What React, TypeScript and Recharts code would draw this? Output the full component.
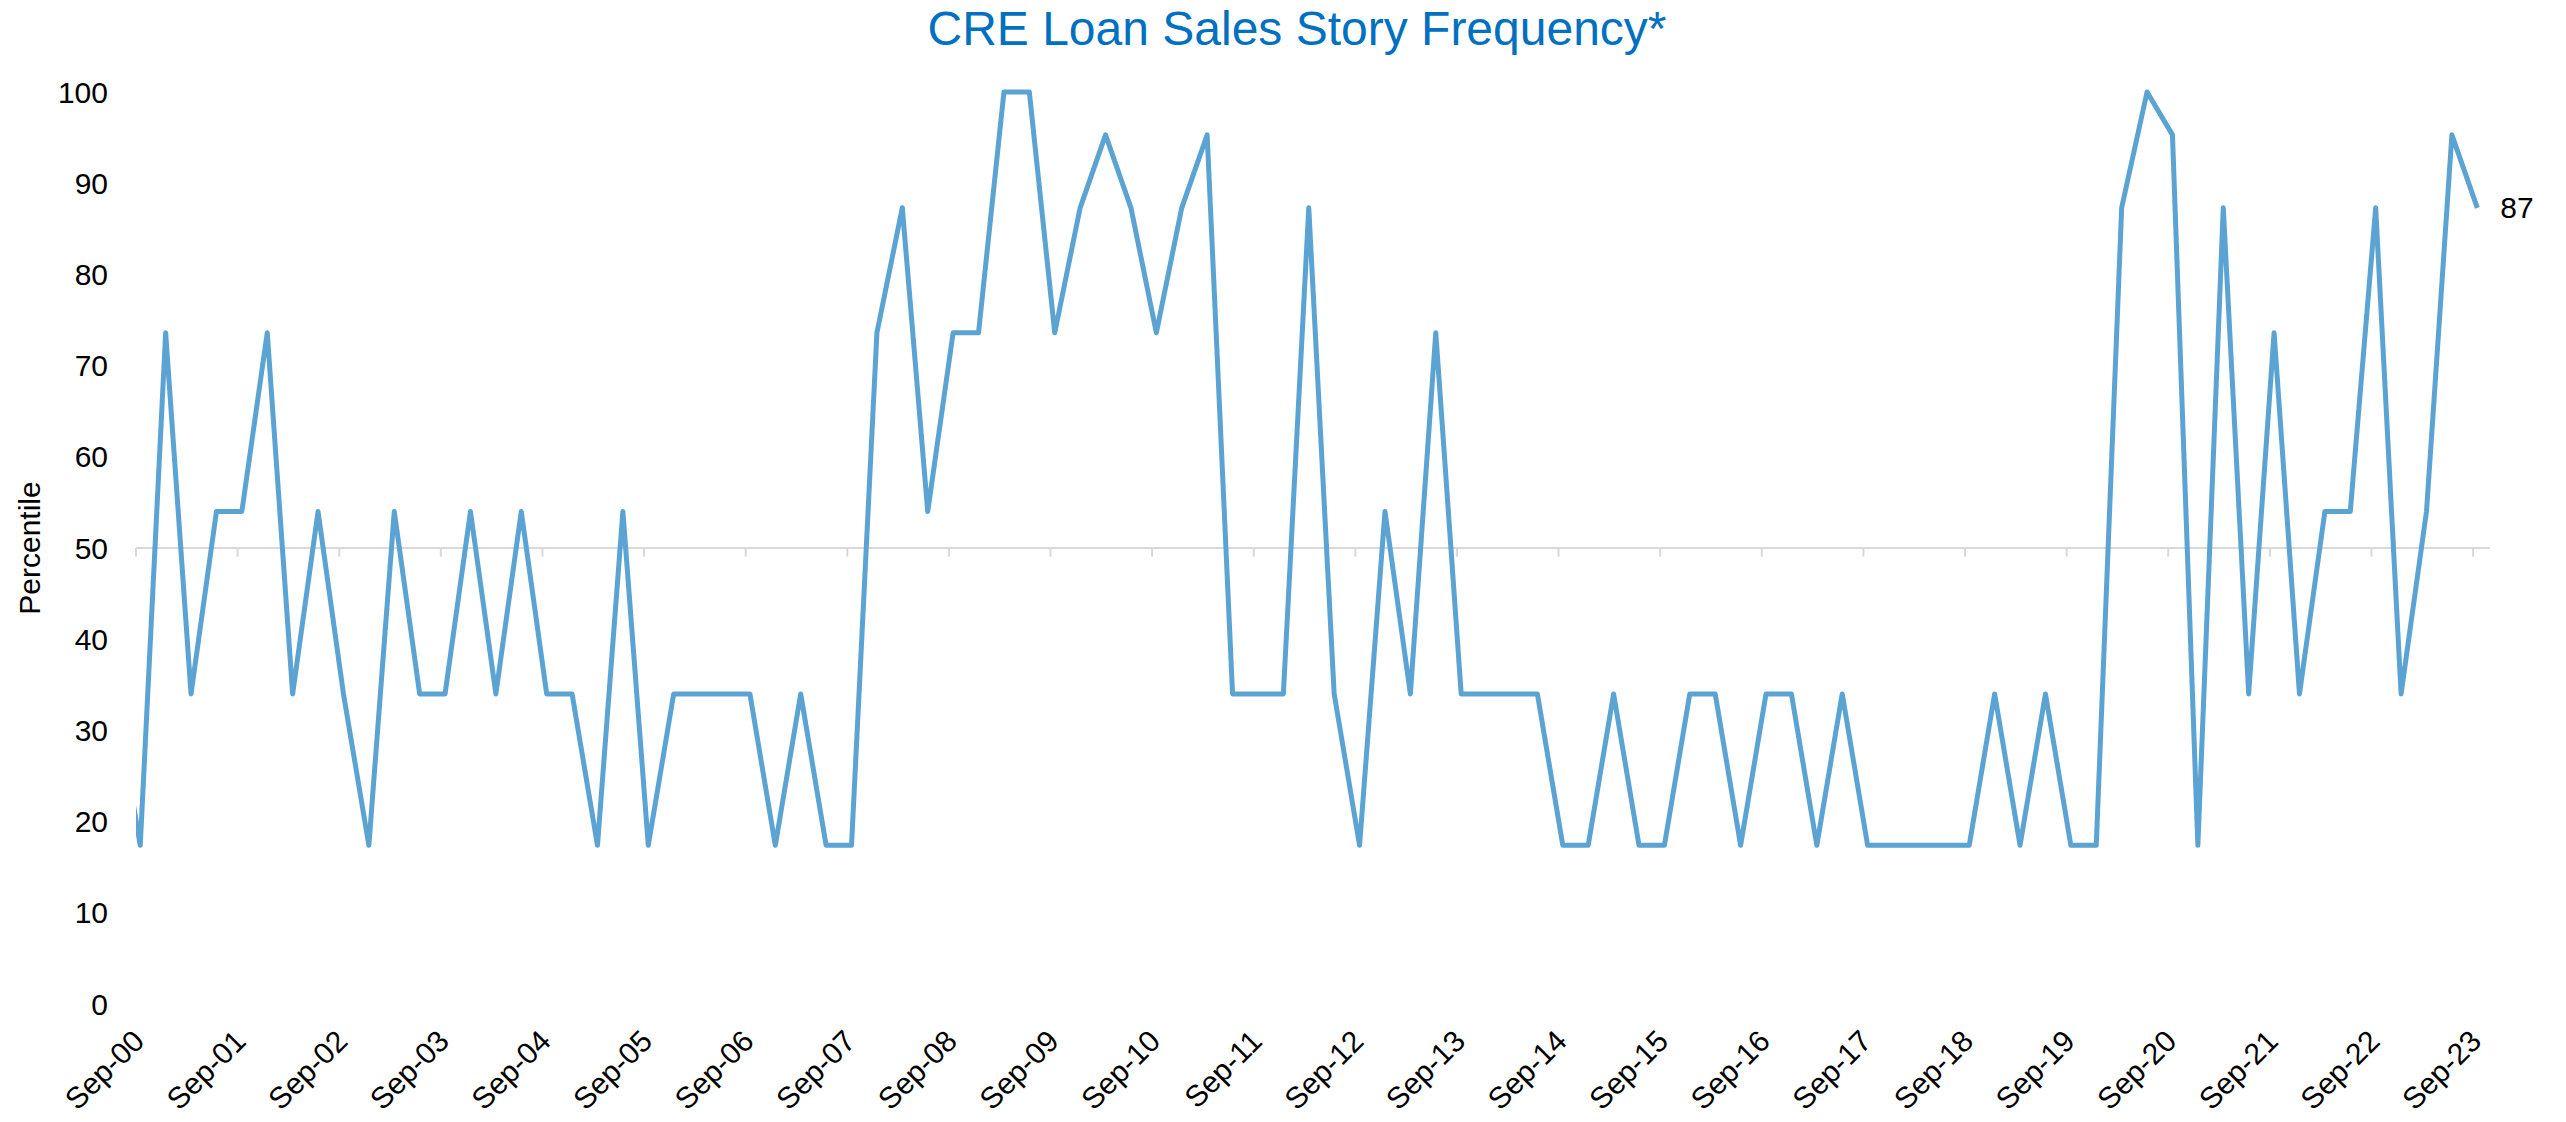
import React from "react";
import { LineChart, Line, XAxis, YAxis, ReferenceLine, LabelList } from "recharts";

// quarterly readings, first one is Jun-00 (sits just left of the axis start)
const firstQuarterMonth = 5; // months since Jan-2000 -> Jun-00
const percentile = [
  34,
  17.4, 73.6, 34, 54, 54, 73.6, 34, 54, 34, 17.4,
  54, 34, 34, 54, 34, 54, 34, 34, 17.4, 54,
  17.4, 34, 34, 34, 34, 17.4, 34, 17.4, 17.4, 73.6,
  87.3, 54, 73.6, 73.6, 100, 100, 73.6, 87.3, 95.3, 87.3,
  73.6, 87.3, 95.3, 34, 34, 34, 87.3, 34, 17.4, 54,
  34, 73.6, 34, 34, 34, 34, 17.4, 17.4, 34, 17.4,
  17.4, 34, 34, 17.4, 34, 34, 17.4, 34, 17.4, 17.4,
  17.4, 17.4, 17.4, 34, 17.4, 34, 17.4, 17.4, 87.3, 100,
  95.3, 17.4, 87.3, 34, 73.6, 34, 54, 54, 87.3, 34,
  54, 95.3, 87.3,
];

const tickYears = Array.from({ length: 24 }, (_, i) => 2000 + i);
const yTicks = [0, 10, 20, 30, 40, 50, 60, 70, 80, 90, 100];

const FONT = "'Liberation Sans', Arial, Helvetica, sans-serif";
const LINE = "#5ba3d3";
const AXIS = "#d9d9d9";

const sepTicks = tickYears.map((y) => y + 8 / 12);
const data = percentile.map((v, i) => ({
  t: 2000 + (firstQuarterMonth + 3 * i + 0.5) / 12,
  v,
}));

const fmtSep = (t: number) => `Sep-${String(Math.floor(t + 1e-6) % 100).padStart(2, "0")}`;

function SepTick({ x, y, payload }: any) {
  const ax = x + 10;
  const ay = y + 39;
  return (
    <text
      x={ax}
      y={ay}
      textAnchor="end"
      fontSize={30}
      fontFamily={FONT}
      fill="#000"
      transform={`rotate(-45, ${ax}, ${ay})`}
    >
      {fmtSep(payload.value)}
    </text>
  );
}

function EndLabel(props: any) {
  const { x, y, value, index } = props;
  if (index !== data.length - 1) return null;
  return (
    <text x={x + 23} y={y} dy="0.355em" fontSize={30} fontFamily={FONT} fill="#000">
      {Math.round(value)}
    </text>
  );
}

export default function App() {
  return (
    <div style={{ position: "absolute", left: 0, top: 0, width: 2566, height: 1122, background: "#fff", fontFamily: FONT }}>
      <div
        style={{
          position: "absolute",
          left: 1297 - 700,
          width: 1400,
          top: 5,
          textAlign: "center",
          fontSize: 48,
          lineHeight: "48px",
          color: "#0070c0",
          whiteSpace: "nowrap",
        }}
      >
        CRE Loan Sales Story Frequency*
      </div>
      <div
        style={{
          position: "absolute",
          left: 30,
          top: 548,
          transform: "translate(-50%, -50%) rotate(-90deg)",
          fontSize: 30,
          lineHeight: "30px",
          color: "#000",
          whiteSpace: "nowrap",
        }}
      >
        Percentile
      </div>
      <LineChart width={2566} height={1122} data={data} margin={{ top: 92, right: 76, bottom: 0, left: 0 }}>
        <XAxis
          dataKey="t"
          type="number"
          domain={[2000 + 8 / 12, 2023 + 10 / 12]}
          allowDataOverflow
          ticks={sepTicks}
          interval={0}
          height={118}
          axisLine={false}
          tickLine={false}
          tickSize={0}
          tickMargin={0}
          tick={<SepTick />}
        />
        <YAxis
          domain={[0, 100]}
          ticks={yTicks}
          interval={0}
          width={136}
          axisLine={false}
          tickLine={false}
          tickSize={0}
          tickMargin={28}
          tick={{ fontSize: 30, fill: "#000", fontFamily: FONT }}
        />
        <ReferenceLine y={50} stroke={AXIS} strokeWidth={2} />
        {sepTicks.map((t) => (
          <ReferenceLine
            key={t}
            segment={[
              { x: t, y: 50 },
              { x: t, y: 49.05 },
            ]}
            stroke={AXIS}
            strokeWidth={2}
          />
        ))}
        <Line
          type="linear"
          dataKey="v"
          stroke={LINE}
          strokeWidth={5}
          strokeLinejoin="round"
          dot={false}
          activeDot={false}
          isAnimationActive={false}
        >
          <LabelList dataKey="v" content={<EndLabel />} />
        </Line>
      </LineChart>
    </div>
  );
}
